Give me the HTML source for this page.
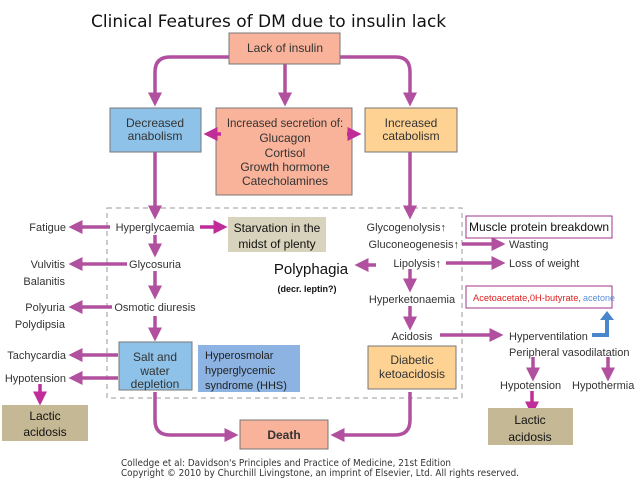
<!DOCTYPE html>
<html><head><meta charset="utf-8"><style>
body{margin:0;background:#fff}
svg{display:block;font-family:"Liberation Sans",sans-serif}
</style></head><body>
<svg width="638" height="479" viewBox="0 0 638 479" xmlns="http://www.w3.org/2000/svg">
<defs>
<marker id="a" markerWidth="4" markerHeight="4" refX="3" refY="2" orient="auto" markerUnits="strokeWidth"><path d="M0,0 L4,2 L0,4 z" fill="#b0509f"/></marker>
<marker id="b" markerWidth="4" markerHeight="4" refX="3" refY="2" orient="auto" markerUnits="strokeWidth"><path d="M0,0 L4,2 L0,4 z" fill="#c02d98"/></marker>
</defs>
<text x="91" y="27" font-family="'DejaVu Sans',sans-serif" font-size="17" fill="#111">Clinical Features of DM due to insulin lack</text>
<rect x="107" y="208" width="355" height="190" fill="none" stroke="#999" stroke-dasharray="5,4"/>
<g stroke="#b0509f" stroke-width="3.5" fill="none" marker-end="url(#a)">
<path d="M229,57 H170 Q155,57 155,72 V103"/>
<path d="M340,57 H396 Q410,57 410,72 V103"/>
<path d="M285,64 V103"/>
<path d="M155,152 V216"/>
<path d="M410,152 V216"/>
<path d="M110,227 H72"/>
<path d="M155,235 V254"/>
<path d="M127,264 H72"/>
<path d="M155,271 V296"/>
<path d="M112,307 H72"/>
<path d="M155,316 V338"/>
<path d="M118,355 H72"/>
<path d="M118,378 H72"/>
<path d="M155,392 V420 Q155,435 170,435 H235"/>
<path d="M410,392 V420 Q410,435 395,435 H334"/>
<path d="M410,269 V289"/>
<path d="M410,306 V327"/>
<path d="M440,335 H500"/>
<path d="M462,244 H502"/>
<path d="M446,263 H502"/>
<path d="M376,265 H358"/>
<path d="M533,357 V378"/>
<path d="M608,357 V378"/>
</g>
<g stroke="#c02d98" stroke-width="3.5" fill="none" marker-end="url(#b)">
<path d="M200,227 H224"/>
<path d="M40,384 V402"/>
<path d="M532,391 V412"/>
</g>
<g stroke="#777" stroke-width="1">
<rect x="229" y="33" width="111" height="31" fill="#f8b39a"/>
<rect x="216" y="108" width="136" height="87" fill="#f8b39a"/>
<rect x="110" y="108" width="91" height="44" fill="#8fc2e8"/>
<rect x="365" y="108" width="92" height="44" fill="#fdd293"/>
<rect x="119" y="342" width="73" height="48" fill="#8fc2e8"/>
<rect x="368" y="346" width="88" height="43" fill="#fdd293"/>
<rect x="240" y="420" width="88" height="29" fill="#f8b39a"/>
</g>
<g stroke="#c02d98" stroke-width="3.5" fill="none" marker-end="url(#b)">
<path d="M221,134 H207"/>
<path d="M347,134 H358"/>
</g>
<rect x="228" y="217" width="98" height="35" fill="#d8d3bd"/>
<rect x="198" y="345" width="102" height="47" fill="#8db3e2"/>
<rect x="2" y="405" width="86" height="36" fill="#c4b895"/>
<rect x="488" y="408" width="85" height="37" fill="#c4b895"/>
<rect x="466" y="216" width="146" height="22" fill="#fff" stroke="#a0358a" stroke-width="1"/>
<rect x="466" y="286" width="146" height="22" fill="#fff" stroke="#a0358a" stroke-width="1"/>
<path d="M605,333 V320 H600 L607,311 L614,320 H609 V337 H592 V333 Z" fill="#4a86cc"/>
<g font-size="12" fill="#333" text-anchor="middle">
<text x="285" y="52">Lack of insulin</text>
<text x="155" y="127">Decreased</text><text x="155" y="140">anabolism</text>
<text x="411" y="127">Increased</text><text x="411" y="140">catabolism</text>
<text x="285" y="127" font-size="11.5">Increased secretion of:</text>
<text x="285" y="142">Glucagon</text><text x="285" y="157">Cortisol</text>
<text x="285" y="171">Growth hormone</text><text x="285" y="185">Catecholamines</text>
<text x="155" y="361">Salt and</text><text x="155" y="375">water</text><text x="155" y="388">depletion</text>
<text x="412" y="364">Diabetic</text><text x="412" y="378">ketoacidosis</text>
<text x="284" y="439" font-weight="bold">Death</text>
</g>
<g font-size="11" fill="#333" text-anchor="middle">
<text x="155" y="231">Hyperglycaemia</text>
<text x="155" y="268">Glycosuria</text>
<text x="155" y="311">Osmotic diuresis</text>
<text x="412" y="303">Hyperketonaemia</text>
<text x="412" y="340">Acidosis</text>
</g>
<g font-size="11" fill="#333" text-anchor="end">
<text x="66" y="231">Fatigue</text>
<text x="65" y="268">Vulvitis</text><text x="65" y="285">Balanitis</text>
<text x="65" y="311">Polyuria</text><text x="65" y="328">Polydipsia</text>
<text x="66" y="359">Tachycardia</text>
<text x="66" y="382">Hypotension</text>
<text x="446" y="231">Glycogenolysis↑</text>
<text x="459" y="248">Gluconeogenesis↑</text>
<text x="441" y="267">Lipolysis↑</text>
</g>
<g font-size="11" fill="#333">
<text x="509" y="248">Wasting</text>
<text x="509" y="267">Loss of weight</text>
<text x="509" y="340">Hyperventilation</text>
<text x="509" y="356">Peripheral vasodilatation</text>
<text x="500" y="389">Hypotension</text>
<text x="572" y="389">Hypothermia</text>
</g>
<g font-size="12" fill="#111" text-anchor="middle">
<text x="277" y="232">Starvation in the</text><text x="277" y="248">midst of plenty</text>
<text x="45" y="420">Lactic</text><text x="45" y="436">acidosis</text>
<text x="530" y="424">Lactic</text><text x="530" y="441">acidosis</text>
<text x="539" y="231">Muscle protein breakdown</text>
</g>
<text x="311" y="274" font-size="15" fill="#111" text-anchor="middle">Polyphagia</text>
<text x="307" y="292" font-size="9" font-weight="bold" fill="#111" text-anchor="middle">(decr. leptin?)</text>
<text x="473" y="301" font-size="9" fill="#e02020" textLength="108" lengthAdjust="spacingAndGlyphs">Acetoacetate,0H-butyrate,</text>
<text x="583" y="301" font-size="9" fill="#5b8fd6">acetone</text>
<g fill="#333" font-family="'DejaVu Sans',sans-serif">
<text x="121" y="466" font-size="9.5" textLength="330" lengthAdjust="spacingAndGlyphs">Colledge et al: Davidson's Principles and Practice of Medicine, 21st Edition</text>
<text x="121" y="476" font-size="9.5" textLength="398" lengthAdjust="spacingAndGlyphs">Copyright © 2010 by Churchill Livingstone, an imprint of Elsevier, Ltd. All rights reserved.</text>
</g>
<g font-size="11" fill="#222">
<text x="205" y="359">Hyperosmolar</text><text x="205" y="374">hyperglycemic</text><text x="205" y="389">syndrome (HHS)</text>
</g>
</svg>
</body></html>
